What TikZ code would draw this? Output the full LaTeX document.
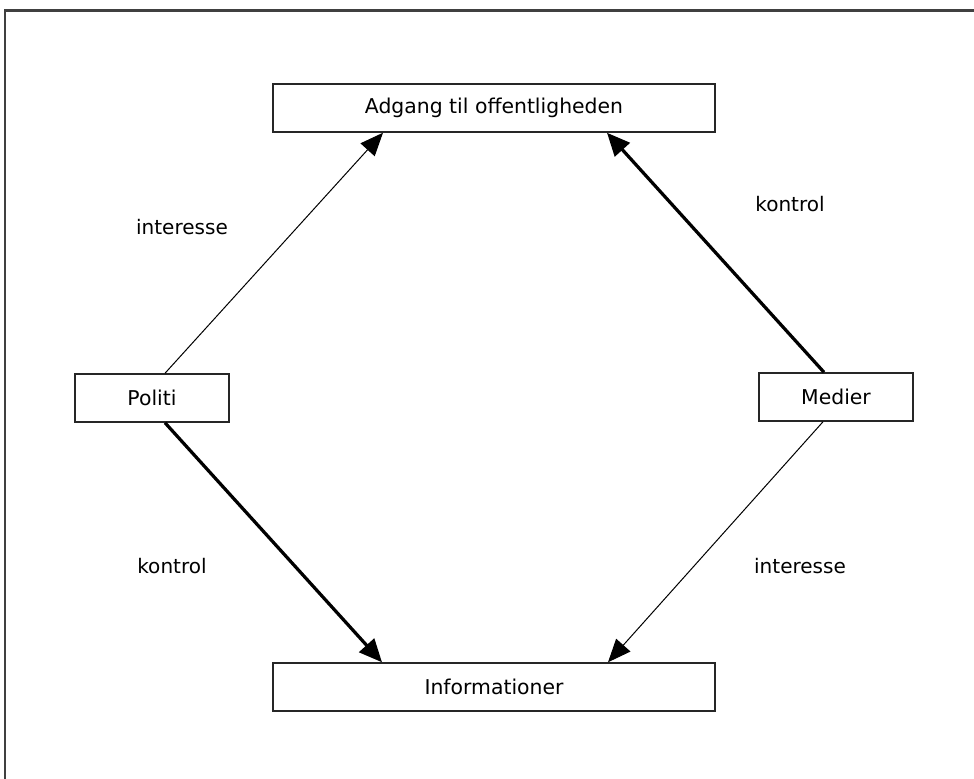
\documentclass[tikz,border=0pt]{standalone}
\usepackage{fontspec}
\setmainfont{DejaVu Sans}
\usetikzlibrary{arrows.meta,calc}
\tikzset{
  boks/.style={draw=black!85,line width=0.03cm,inner sep=0pt,minimum height=0.96cm,font=\fontsize{11.6}{13}\selectfont},
  svag/.style={line width=0.02cm,-{Triangle[length=0.46cm,width=0.38cm]}},
  staerk/.style={line width=0.065cm,-{Triangle[length=0.46cm,width=0.40cm]}},
  etiket/.style={inner sep=0pt,font=\fontsize{11.4}{13}\selectfont}
}
\begin{document}
\begin{tikzpicture}[x=0.02cm,y=-0.02cm]
                \useasboundingbox (0,0) rectangle (974,778);
                
                % Drawing frame
                \draw [line width=0.06cm,black!75] (5,1000) -- (5,10) -- (1200,10);%
                
                % Drawing boxes
                \node [boks,minimum width=8.84cm] (adgang) at (494,108) {Adgang til offentligheden};%
                \node [boks,minimum width=8.84cm] (info) at (494,687) {Informationer};%
                \node [boks,minimum width=3.08cm] (politi) at (152,398) {Politi};%
                \node [boks,minimum width=3.08cm] (medier) at (836,397) {Medier};%
                
                % Drawing arrows from Politi
                \draw [svag] ($(politi.north)+(13,0)$) -- ($(adgang.south)+(-111,0)$);%
                \draw [staerk] ($(politi.south)+(13,0)$) -- ($(info.north)+(-112,0)$);%
                
                % Drawing arrows from Medier
                \draw [staerk] ($(medier.north)+(-12,0)$) -- ($(adgang.south)+(113,0)$);%
                \draw [svag] ($(medier.south)+(-13,0)$) -- ($(info.north)+(114,0)$);%
                
                % Marking labels
                \node [etiket] (lbl1) at (182,227) {interesse};%
                \node [etiket] (lbl2) at (790,204) {kontrol};%
                \node [etiket] (lbl3) at (172,566) {kontrol};%
                \node [etiket] (lbl4) at (800,566) {interesse};%
\end{tikzpicture}
\end{document}
